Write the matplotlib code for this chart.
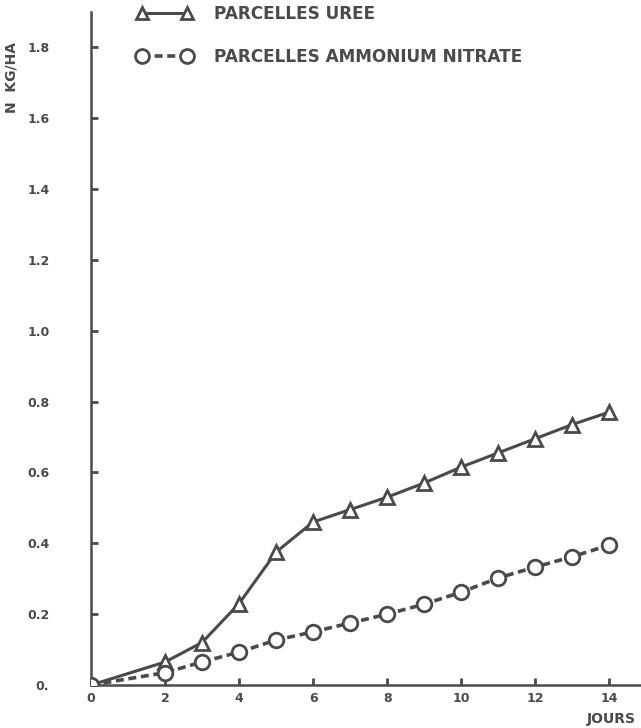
import matplotlib
matplotlib.use("Agg")
import matplotlib.pyplot as plt
from matplotlib.lines import Line2D

INK = "#4a4a4a"

jours = [0, 2, 3, 4, 5, 6, 7, 8, 9, 10, 11, 12, 13, 14]
uree = [0.0, 0.065, 0.12, 0.23, 0.375, 0.46, 0.495, 0.53, 0.57, 0.615, 0.655, 0.695, 0.735, 0.77]
nitrate = [0.0, 0.035, 0.065, 0.093, 0.127, 0.15, 0.175, 0.2, 0.228, 0.262, 0.302, 0.333, 0.362, 0.395]

y_ticks = [0.0, 0.2, 0.4, 0.6, 0.8, 1.0, 1.2, 1.4, 1.6, 1.8]
y_labels = ["0.", "0.2", "0.4", "0.6", "0.8", "1.0", "1.2", "1.4", "1.6", "1.8"]
x_ticks = [0, 2, 4, 6, 8, 10, 12, 14]

plt.rcParams["font.family"] = "DejaVu Sans"
fig = plt.figure(figsize=(6.41, 7.28), dpi=100)
ax = fig.add_axes([0.142, 0.059, 0.858, 0.925])

ax.plot(jours, uree, color=INK, lw=2.2, marker="^", ms=10, mfc="white",
        mec=INK, mew=2.0, zorder=3)
ax.plot(jours, nitrate, color=INK, lw=2.6, ls=(0, (2.2, 1.3)), marker="o", ms=10.5,
        mfc="white", mec=INK, mew=2.0, zorder=3)

ax.set_xlim(0, 14.86)
ax.set_ylim(0, 1.9)
for side in ("top", "right"):
    ax.spines[side].set_visible(False)
for side in ("left", "bottom"):
    ax.spines[side].set_color(INK)
    ax.spines[side].set_linewidth(1.8)

ax.set_yticks(y_ticks)
ax.set_yticklabels(y_labels)
ax.set_xticks(x_ticks)
ax.tick_params(direction="in", length=5, width=2, color=INK, labelcolor=INK,
               labelsize=9)
ax.tick_params(axis="y", pad=30)
ax.tick_params(axis="x", pad=5)
for lbl in ax.get_xticklabels() + ax.get_yticklabels():
    lbl.set_fontweight("bold")

fig.text(0.018, 0.893, "N  KG/HA", rotation=90, ha="center", va="center",
         fontsize=10, fontweight="bold", color=INK)
fig.text(0.992, 0.013, "JOURS", ha="right", va="center", fontsize=10,
         fontweight="bold", color=INK)

handles = [
    Line2D([], [], color=INK, lw=2.2, marker="^", ms=9, mfc="white", mec=INK, mew=2),
    Line2D([], [], color=INK, lw=2.6, ls=(0, (2.2, 1.3)), marker="o", ms=10,
           mfc="white", mec=INK, mew=2),
]
leg = ax.legend(handles, ["PARCELLES UREE", "PARCELLES AMMONIUM NITRATE"],
                loc="upper left", bbox_to_anchor=(0.055, 1.033), frameon=False,
                numpoints=2, handlelength=3.3, handletextpad=1.3,
                labelspacing=1.5, prop={"weight": "bold", "size": 12.2})
for t in leg.get_texts():
    t.set_color(INK)

fig.savefig("out.png", dpi=100)
